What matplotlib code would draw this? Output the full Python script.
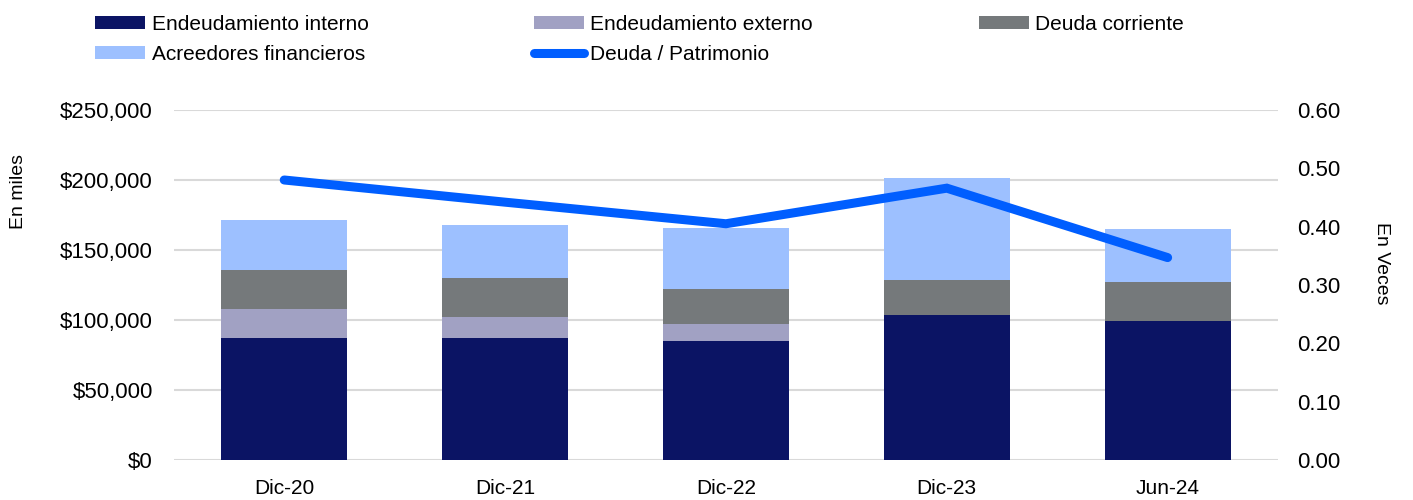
import matplotlib.pyplot as plt
import numpy as np
from matplotlib.ticker import FuncFormatter

plt.rcParams['font.family'] = ['Liberation Sans', 'DejaVu Sans']

periodos = ['Dic-20', 'Dic-21', 'Dic-22', 'Dic-23', 'Jun-24']
interno = [87100, 87100, 85000, 103800, 99500]
externo = [20800, 15300, 12400, 0, 0]
corriente = [28000, 27800, 25000, 25000, 27600]
acreedores = [35300, 37700, 43500, 72800, 37900]
deuda_patrimonio = [0.48, 0.442, 0.405, 0.466, 0.347]

c_interno = '#0B1464'
c_externo = '#A1A1C3'
c_corriente = '#75797B'
c_acreedores = '#9DC0FF'
c_linea = '#005EFF'

fig = plt.figure(figsize=(14.13, 5.0), dpi=100)
ax = fig.add_axes([0.123, 0.08, 0.7815, 0.70])
ax2 = ax.twinx()

x = np.arange(len(periodos))
w = 0.57
b1 = ax.bar(x, interno, w, color=c_interno, zorder=2, label='Endeudamiento interno')
bottom = np.array(interno, dtype=float)
b2 = ax.bar(x, externo, w, bottom=bottom, color=c_externo, zorder=2, label='Endeudamiento externo')
bottom += externo
b3 = ax.bar(x, corriente, w, bottom=bottom, color=c_corriente, zorder=2, label='Deuda corriente')
bottom += corriente
b4 = ax.bar(x, acreedores, w, bottom=bottom, color=c_acreedores, zorder=2, label='Acreedores financieros')

l1, = ax2.plot(x, deuda_patrimonio, color=c_linea, lw=6.5, solid_capstyle='round',
               solid_joinstyle='miter', label='Deuda / Patrimonio')

ax.set_xlim(-0.5, len(periodos) - 0.5)
ax.set_ylim(0, 250000)
ax.set_yticks(np.arange(0, 250001, 50000))
ax.yaxis.set_major_formatter(FuncFormatter(lambda v, p: '${:,.0f}'.format(v)))
ax2.set_ylim(0, 0.6)
ax2.set_yticks(np.arange(0, 0.61, 0.1))
ax2.yaxis.set_major_formatter(FuncFormatter(lambda v, p: '{:.2f}'.format(v)))

ax.grid(axis='y', color='#D9D9D9', lw=1.5, zorder=0)
ax.set_axisbelow(True)
for a in (ax, ax2):
    for s in a.spines.values():
        s.set_visible(False)
ax.set_xticks(x)
ax.set_xticklabels(periodos)
ax.tick_params(axis='x', length=0, pad=14, labelsize=15)
ax.tick_params(axis='y', length=0, pad=15, labelsize=16)
ax2.tick_params(axis='y', length=0, pad=14, labelsize=16)

ax.set_ylabel('En miles', fontsize=14)
ax.yaxis.set_label_coords(-0.133, 0.766)
ax2.set_ylabel('En Veces', fontsize=14, rotation=-90, va='center')
ax2.yaxis.set_label_coords(1.094, 0.563)

handles = [b1, b4, b2, l1, b3]
labels = [h.get_label() for h in handles]
fig.legend(handles, labels, ncol=3, loc='upper left', bbox_to_anchor=(0.0543, 1.008),
           frameon=False, fontsize=15, handlelength=2.4, handleheight=0.6,
           handletextpad=0.3, columnspacing=7.95, labelspacing=0.55)

fig.savefig('out.png', dpi=100)
